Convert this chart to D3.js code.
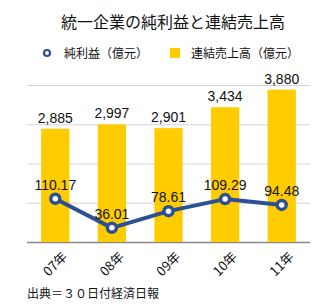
<!doctype html>
<html>
<head>
<meta charset="utf-8">
<script src="https://d3js.org/d3.v7.min.js"></script>
<style>
  body { margin: 0; background: #fff; }
  text { font-family: "Noto Sans CJK JP", "Liberation Sans", sans-serif; fill: #111; }
  .num { font-family: "Liberation Sans", Arial, sans-serif; font-size: 14px; }
</style>
</head>
<body>
<script>
var years = ["07年", "08年", "09年", "10年", "11年"];
var sales = [2885, 2997, 2901, 3434, 3880];
var profit = [110.17, 36.01, 78.61, 109.29, 94.48];
var gridTicks = [0, 1000, 2000, 3000, 4000];

var w = 329, h = 307;
var plotLeft = 27, plotRight = 310, plotTop = 85, plotBottom = 242;
var blue = "#2d4f94", yellow = "#ffcc00";

var svg = d3.select("body").append("svg")
  .attr("width", w).attr("height", h);

var x = d3.scaleBand().domain(years).range([plotLeft, plotRight]).paddingInner(0.5).paddingOuter(0.25);
var ySales = d3.scaleLinear().domain([0, 4000]).range([plotBottom, plotTop]);
var yProfit = d3.scaleLinear().domain([0, 400]).range([plotBottom, plotTop]);

// title
svg.append("text")
  .attr("x", 173).attr("y", 28)
  .attr("text-anchor", "middle")
  .style("font-size", "16px")
  .text("統一企業の純利益と連結売上高");

// legend
var lg = svg.append("g").attr("transform", "translate(0,53)");
lg.append("circle").attr("cx", 47).attr("cy", 0).attr("r", 3)
  .attr("fill", "#fff").attr("stroke", blue).attr("stroke-width", 2.2);
lg.append("text").attr("x", 64).attr("y", 4.5).style("font-size", "12px").text("純利益（億元）");
lg.append("rect").attr("x", 170).attr("y", -5).attr("width", 10).attr("height", 10).attr("fill", yellow);
lg.append("text").attr("x", 191).attr("y", 4.5).style("font-size", "12px").text("連結売上高（億元）");

// grid
svg.append("g").selectAll("line").data(gridTicks).enter().append("line")
  .attr("x1", plotLeft).attr("x2", plotRight)
  .attr("y1", function(d) { return ySales(d) + 0.5; })
  .attr("y2", function(d) { return ySales(d) + 0.5; })
  .attr("stroke", function(d) { return d === 0 ? "#888" : "#d4d4d4"; })
  .attr("stroke-width", function(d) { return d === 0 ? 1.5 : 1; });

// bars
svg.append("g").selectAll("rect").data(sales).enter().append("rect")
  .attr("x", function(d, i) { return x(years[i]); })
  .attr("width", x.bandwidth())
  .attr("y", function(d) { return ySales(d); })
  .attr("height", function(d) { return plotBottom - ySales(d); })
  .attr("fill", yellow);

svg.append("g").selectAll("text").data(sales).enter().append("text")
  .attr("class", "num")
  .attr("x", function(d, i) { return x(years[i]) + x.bandwidth() / 2; })
  .attr("y", function(d) { return ySales(d) - 6; })
  .attr("text-anchor", "middle")
  .text(function(d) { return d3.format(",")(d); });

// line
var cx = function(d, i) { return x(years[i]) + x.bandwidth() / 2; };
var line = d3.line().x(cx).y(function(d) { return yProfit(d); });
svg.append("path").datum(profit)
  .attr("d", line)
  .attr("fill", "none").attr("stroke", blue).attr("stroke-width", 4)
  .attr("stroke-linejoin", "round");

svg.append("g").selectAll("circle").data(profit).enter().append("circle")
  .attr("cx", cx)
  .attr("cy", function(d) { return yProfit(d); })
  .attr("r", 4.5)
  .attr("fill", "#fff").attr("stroke", blue).attr("stroke-width", 3.5);

svg.append("g").selectAll("text").data(profit).enter().append("text")
  .attr("class", "num")
  .attr("x", cx)
  .attr("y", function(d) { return yProfit(d) - 9; })
  .attr("text-anchor", "middle")
  .text(function(d) { return d3.format(".2f")(d); });

// x labels
svg.append("g").selectAll("text").data(years).enter().append("text")
  .attr("transform", function(d) { return "translate(" + (x(d) + x.bandwidth() / 2) + ",264) rotate(-45)"; })
  .attr("text-anchor", "middle")
  .attr("dy", "0.35em")
  .style("font-size", "13px")
  .text(function(d) { return d; });

// source
svg.append("text")
  .attr("x", 27).attr("y", 298)
  .style("font-size", "12px")
  .text("出典＝３０日付経済日報");
</script>
</body>
</html>
